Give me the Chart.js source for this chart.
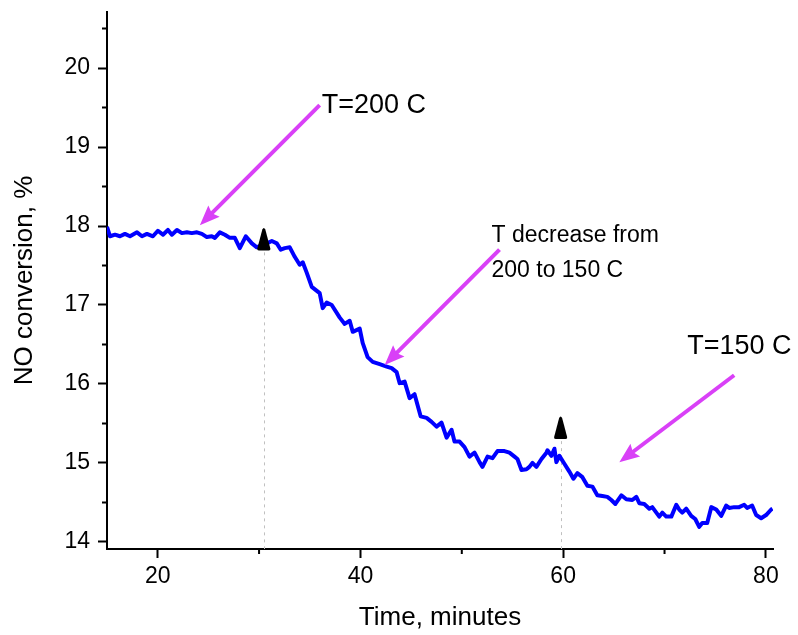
<!DOCTYPE html>
<html>
<head>
<meta charset="utf-8">
<script src="https://cdn.jsdelivr.net/npm/chart.js@4"></script>
<style>
html, body { margin: 0; padding: 0; background: #fff; }
</style>
</head>
<body>
<canvas id="chart" width="798" height="635"></canvas>
<script>
// time axis (minutes)
const timeMin = [
    15.00, 15.30, 15.79, 16.28, 16.77, 17.27, 17.96, 18.45, 18.94, 19.53,
    20.02, 20.52, 21.01, 21.40, 21.90, 22.39, 22.88, 23.37, 23.87, 24.36,
    24.85, 25.34, 25.64, 26.13, 26.63, 27.12, 27.61, 28.10, 28.69, 29.29,
    29.78, 30.27, 30.76, 31.26, 31.75, 32.14, 32.54, 33.03, 33.52, 34.01,
    34.31, 34.70, 35.20, 35.98, 36.28, 36.67, 37.17, 37.96, 38.45, 38.94,
    39.24, 39.93, 40.22, 40.71, 41.21, 41.90, 42.59, 43.08, 43.57, 43.87,
    44.36, 44.85, 45.34, 45.94, 46.53, 47.02, 47.51, 48.00, 48.50, 48.99,
    49.28, 49.78, 50.27, 50.76, 51.26, 51.75, 52.04, 52.54, 53.03, 53.52,
    54.21, 54.70, 55.20, 55.49, 55.89, 56.38, 56.67, 56.97, 57.36, 57.86,
    58.35, 58.45, 58.84, 59.14, 59.33, 59.63, 60.12, 60.61, 61.01, 61.40,
    61.90, 62.39, 62.88, 63.37, 63.87, 64.36, 64.75, 65.15, 65.74, 66.23,
    66.82, 67.22, 67.51, 68.00, 68.50, 68.79, 69.19, 69.48, 69.78, 70.17,
    70.67, 71.16, 71.45, 71.75, 72.14, 72.63, 73.03, 73.42, 73.72, 74.21,
    74.61, 75.10, 75.59, 76.08, 76.38, 76.87, 77.36, 77.86, 78.15, 78.64,
    79.04, 79.53, 80.02, 80.52, 80.65
];

// NO conversion (%)
const noConversion = [
    17.99, 17.87, 17.89, 17.87, 17.90, 17.87, 17.92, 17.87, 17.90, 17.87,
    17.94, 17.89, 17.95, 17.89, 17.95, 17.91, 17.92, 17.91, 17.92, 17.90,
    17.86, 17.87, 17.85, 17.92, 17.89, 17.85, 17.85, 17.72, 17.87, 17.78,
    17.73, 17.76, 17.78, 17.81, 17.78, 17.70, 17.72, 17.73, 17.61, 17.51,
    17.54, 17.41, 17.23, 17.15, 16.96, 17.03, 17.00, 16.84, 16.76, 16.80,
    16.66, 16.70, 16.52, 16.34, 16.28, 16.25, 16.22, 16.20, 16.15, 16.01,
    16.03, 15.82, 15.87, 15.59, 15.57, 15.52, 15.46, 15.51, 15.32, 15.42,
    15.27, 15.27, 15.20, 15.08, 15.13, 15.01, 14.95, 15.08, 15.06, 15.15,
    15.15, 15.13, 15.08, 15.05, 14.91, 14.92, 14.95, 15.00, 14.95, 15.05,
    15.13, 15.16, 15.09, 15.18, 15.01, 15.09, 14.99, 14.89, 14.80, 14.87,
    14.82, 14.71, 14.70, 14.59, 14.58, 14.57, 14.53, 14.48, 14.59, 14.54,
    14.53, 14.57, 14.49, 14.48, 14.42, 14.44, 14.37, 14.32, 14.37, 14.32,
    14.32, 14.47, 14.41, 14.37, 14.42, 14.33, 14.29, 14.19, 14.24, 14.24,
    14.44, 14.41, 14.33, 14.46, 14.43, 14.44, 14.44, 14.47, 14.43, 14.46,
    14.34, 14.30, 14.34, 14.41, 14.42
];

const xMinorTicks = [30, 50, 70];
const yMinorTicks = [14.5, 15.5, 16.5, 17.5, 18.5, 19.5, 20.5];

// arrows: [fromX, fromY, toX, toY] in data units
const arrowLines = [
    [35.98, 19.53, 24.16, 18.01],
    [53.72, 17.70, 42.39, 16.24],
    [76.87, 16.11, 65.54, 15.01]
];
const noteTexts = ['T=200 C', 'T decrease from', '200 to 150 C', 'T=150 C'];
const noteX = [36.18, 52.93, 52.93, 72.24];
const noteY = [19.53, 17.88, 17.44, 16.47];
const noteSize = [27, 23, 23, 27];
// markers: [x, apexY]
const markerX = [30.47, 59.75];
const markerY = [17.97, 15.58];

const FONT = 'Arial, "Liberation Sans", sans-serif';
const MAGENTA = '#d940f7';

const notesPlugin = {
    id: 'notes',
    beforeDatasetsDraw(chart) {
        const ctx = chart.ctx;
        const xs = chart.scales.x, ys = chart.scales.y;
        ctx.save();
        ctx.strokeStyle = '#c0c0c0';
        ctx.lineWidth = 1;
        ctx.setLineDash([3, 4]);
        markerX.forEach((mx, i) => {
            const px = Math.round(xs.getPixelForValue(mx)) + 0.5;
            ctx.beginPath();
            ctx.moveTo(px, ys.getPixelForValue(markerY[i]) + 24);
            ctx.lineTo(px, chart.chartArea.bottom);
            ctx.stroke();
        });
        ctx.restore();
    },
    afterDatasetsDraw(chart) {
        const ctx = chart.ctx;
        const xs = chart.scales.x, ys = chart.scales.y;
        ctx.save();
        // arrows
        arrowLines.forEach(a => {
            const x1 = xs.getPixelForValue(a[0]), y1 = ys.getPixelForValue(a[1]);
            const x2 = xs.getPixelForValue(a[2]), y2 = ys.getPixelForValue(a[3]);
            const ang = Math.atan2(y2 - y1, x2 - x1);
            const len = 20, half = 8;
            const bx = x2 - len * Math.cos(ang), by = y2 - len * Math.sin(ang);
            ctx.strokeStyle = MAGENTA;
            ctx.fillStyle = MAGENTA;
            ctx.lineWidth = 4;
            ctx.beginPath();
            ctx.moveTo(x1, y1);
            ctx.lineTo(bx + 4 * Math.cos(ang), by + 4 * Math.sin(ang));
            ctx.stroke();
            ctx.beginPath();
            ctx.moveTo(x2, y2);
            ctx.lineTo(bx + half * Math.sin(ang), by - half * Math.cos(ang));
            ctx.lineTo(bx + 3 * Math.cos(ang), by + 3 * Math.sin(ang));
            ctx.lineTo(bx - half * Math.sin(ang), by + half * Math.cos(ang));
            ctx.closePath();
            ctx.fill();
        });
        // triangle markers
        ctx.fillStyle = '#000';
        markerX.forEach((mx, i) => {
            const px = xs.getPixelForValue(mx), py = ys.getPixelForValue(markerY[i]);
            ctx.beginPath();
            ctx.moveTo(px - 1.5, py + 1);
            ctx.quadraticCurveTo(px, py - 2, px + 1.5, py + 1);
            ctx.lineTo(px + 6.5, py + 20);
            ctx.quadraticCurveTo(px + 7, py + 22, px + 5, py + 22);
            ctx.lineTo(px - 5, py + 22);
            ctx.quadraticCurveTo(px - 7, py + 22, px - 6.5, py + 20);
            ctx.closePath();
            ctx.fill();
        });
        // text notes
        ctx.fillStyle = '#000';
        ctx.textAlign = 'left';
        ctx.textBaseline = 'middle';
        noteTexts.forEach((t, i) => {
            ctx.font = noteSize[i] + 'px ' + FONT;
            ctx.fillText(t, xs.getPixelForValue(noteX[i]), ys.getPixelForValue(noteY[i]));
        });
        ctx.restore();
    },
    afterDraw(chart) {
        const ctx = chart.ctx;
        const area = chart.chartArea;
        const xs = chart.scales.x, ys = chart.scales.y;
        ctx.save();
        ctx.strokeStyle = '#000';
        ctx.lineWidth = 2;
        ctx.beginPath();
        xMinorTicks.forEach(v => {
            const px = xs.getPixelForValue(v);
            ctx.moveTo(px, area.bottom);
            ctx.lineTo(px, area.bottom + 5);
        });
        yMinorTicks.forEach(v => {
            const py = ys.getPixelForValue(v);
            ctx.moveTo(area.left, py);
            ctx.lineTo(area.left - 5, py);
        });
        ctx.stroke();
        ctx.restore();
    }
};

const ctx = document.getElementById('chart').getContext('2d');
new Chart(ctx, {
    type: 'line',
    data: {
        datasets: [{
            label: 'NO conversion',
            data: timeMin.map((t, i) => ({ x: t, y: noConversion[i] })),
            borderColor: '#0000ff',
            borderWidth: 4,
            borderJoinStyle: 'round',
            pointRadius: 0,
            tension: 0,
            fill: false
        }]
    },
    options: {
        responsive: false,
        animation: false,
        devicePixelRatio: 1,
        layout: { padding: { top: 12, right: 25, left: 0, bottom: 0 } },
        plugins: {
            legend: { display: false },
            tooltip: { enabled: false }
        },
        scales: {
            x: {
                type: 'linear',
                min: 15,
                max: 80.7,
                afterFit: s => { s.height = 86; s.paddingLeft = 0; s.paddingRight = 0; },
                border: { display: true, color: '#000', width: 2 },
                grid: { display: true, drawOnChartArea: false, tickLength: 9, tickWidth: 2, tickColor: '#000' },
                ticks: {
                    stepSize: 20,
                    includeBounds: false,
                    color: '#000',
                    padding: 5,
                    maxRotation: 0,
                    font: { family: FONT, size: 23 }
                },
                title: {
                    display: true,
                    text: 'Time, minutes',
                    color: '#000',
                    font: { family: FONT, size: 26 },
                    padding: { top: 0, bottom: 2 }
                }
            },
            y: {
                min: 13.91,
                max: 20.71,
                afterFit: s => { s.width = 107; s.paddingTop = 0; s.paddingBottom = 0; },
                border: { display: true, color: '#000', width: 2 },
                grid: { display: true, drawOnChartArea: false, tickLength: 9, tickWidth: 2, tickColor: '#000' },
                ticks: {
                    stepSize: 1,
                    includeBounds: false,
                    color: '#000',
                    padding: 8,
                    font: { family: FONT, size: 23 }
                },
                title: {
                    display: true,
                    text: 'NO conversion, %',
                    color: '#000',
                    font: { family: FONT, size: 26 },
                    padding: { top: 9, bottom: 0 }
                }
            }
        }
    },
    plugins: [notesPlugin]
});
</script>
</body>
</html>
